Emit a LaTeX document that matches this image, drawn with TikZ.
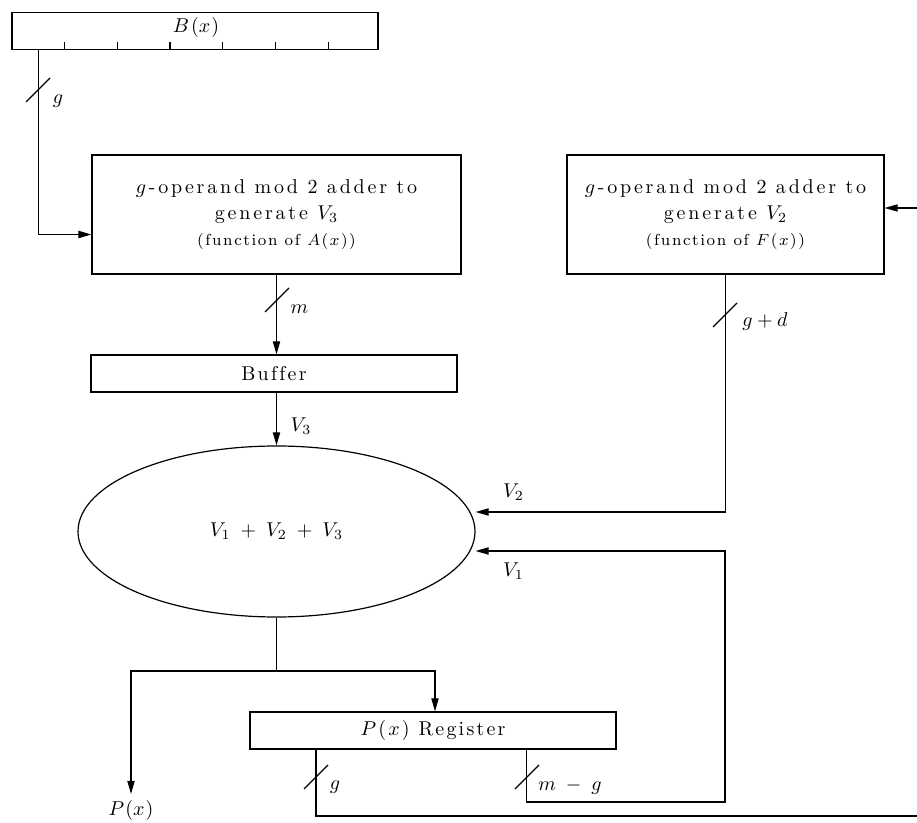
\documentclass[tikz,border=0pt]{standalone}
\usetikzlibrary{arrows.meta,shapes.geometric,calc}

% \spaced[<gap>]{words}: sets each word with a fixed gap after every letter
\ExplSyntaxOn
\dim_new:N \l_ls_gap_dim
\seq_new:N \l_ls_words_seq
\tl_new:N \l_ls_out_tl
\NewDocumentCommand \spaced { O{1.4pt} m }
 {
  \dim_set:Nn \l_ls_gap_dim {#1}
  \seq_set_split:Nnn \l_ls_words_seq { ~ } {#2}
  \tl_clear:N \l_ls_out_tl
  \seq_map_inline:Nn \l_ls_words_seq
   {
    \tl_if_empty:NF \l_ls_out_tl { \tl_put_right:Nn \l_ls_out_tl { ~ } }
    \tl_map_inline:nn {##1}
     { \tl_put_right:Nn \l_ls_out_tl { ####1 \kern \l_ls_gap_dim } }
   }
  \tl_use:N \l_ls_out_tl
  \kern -\l_ls_gap_dim
 }
\ExplSyntaxOff

\tikzset{
  wire/.style={line width=0.6pt},
  arr/.style={wire,-{Triangle[length=6.5pt,width=3.6pt]}},
  blk/.style={draw,line width=0.6pt,rectangle,inner sep=0pt},
  buswidth/.pic={\draw[line width=0.6pt] (-12,12) -- (12,-12);}
}

\begin{document}
\begin{tikzpicture}[x=0.5pt,y=-0.5pt]
\useasboundingbox (0,0) rectangle (917,823);

% blocks
\node[blk,minimum width=183pt,minimum height=18.5pt] (B) at (195,31) {};
\node (Blab) at (196,28) {$B\mkern2mu(x\mkern1mu)$};
\node[blk,minimum width=184.5pt,minimum height=59.5pt,align=center] (A1) at (276.5,214.5)
  {\spaced{{$g$}-operand mod 2 adder to}\\[0.9pt] \spaced{generate {{$V_3$}}}\\[1pt]
   {\footnotesize\spaced[0.8pt]{(function of {$A$}{$($}{$x$}{$)$})}}};
\node[blk,minimum width=158.5pt,minimum height=59.5pt,align=center] (A2) at (725.5,214.5)
  {\spaced{{$g$}-operand mod 2 adder to}\\[0.9pt] \spaced{generate {{$V_2$}}}\\[1pt]
   {\footnotesize\spaced[0.8pt]{(function of {$F$}{$($}{$x$}{$)$})}}};
\node[blk,minimum width=183pt,minimum height=18.5pt] (Buf) at (274,373.5) {\spaced[1.1pt]{Buffer}};
\node[draw,line width=0.6pt,ellipse,inner sep=0pt,minimum width=198.5pt,minimum height=85.5pt]
  (E) at (276.5,531.5) {$V_1\;+\;V_2\;+\;V_3$};
\node[blk,minimum width=183pt,minimum height=18.5pt] (Reg) at (433,730.5)
  {\spaced[1.1pt]{{$P$}{$($}{$x$}{$)$} Register}};
\node (Plab) at (131,811) {$P\mkern1mu(x\mkern1mu)$};

% scale ticks on the B(x) register
\foreach \k in {0,...,5}
  \draw[wire] ([xshift={(53+52.8*\k)*0.5pt}]B.south west) -- ++(0,-8);

% free ends and corners
\coordinate (rIn) at (917,208);
\coordinate (split) at (276.5,671);
\coordinate (loopBR) at (725,802);
\coordinate (gOut) at (917,816);

% connectors
\draw[arr] ([xshift=13.5pt]B.south west) |- ([yshift=-10pt]A1.west);
\draw[arr] (A1.south) -- (A1.south |- Buf.north);
\draw[arr] (Buf.south -| E.north) -- (E.north);
\draw[arr] (rIn) -- (rIn -| A2.east);
\draw[arr] (A2.south) |- ([yshift=9.75pt]E.east);
\draw[wire] (E.south) -- (split);
\draw[arr] (split) -| (Plab.north);
\draw[arr] (split) -| ([xshift=1pt]Reg.north);
\draw[arr] ([xshift=138.5pt]Reg.south west) |- (loopBR) |- ([yshift=-9.75pt]E.east);
\draw[wire] ([xshift=33.25pt]Reg.south west) |- (gOut);

% bus-width marks and labels
\pic at (38,90) {buswidth};
\node (lg1) at (58,101) {$g$};
\pic at (277,300) {buswidth};
\node (lm) at (299.5,309) {$m$};
\node (lv3) at (301,426) {$V_3$};
\pic at (725,315) {buswidth};
\node (lgd) at (765,322) {$g+d$};
\node (lv2) at (513.5,492) {$V_2$};
\node (lv1) at (513.5,571) {$V_1$};
\pic at (316,777) {buswidth};
\node (lg2) at (335,787) {$g$};
\pic at (527,777) {buswidth};
\node (lmg) at (570,787) {$m\;-\;g$};
\end{tikzpicture}
\end{document}
